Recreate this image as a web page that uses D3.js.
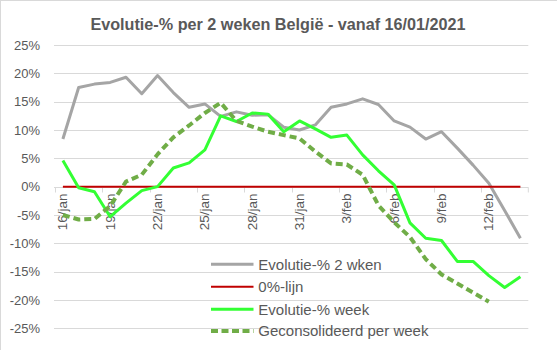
<!DOCTYPE html>
<html>
<head>
<meta charset="utf-8">
<script src="https://cdn.jsdelivr.net/npm/d3@7"></script>
<style>
  html, body { margin: 0; padding: 0; background: #fff; }
  svg { display: block; font-family: "Liberation Sans", Arial, sans-serif; }
</style>
</head>
<body>
<svg id="chart" width="557" height="350"></svg>
<script>
const categories = ["16/jan","17/jan","18/jan","19/jan","20/jan","21/jan","22/jan","23/jan","24/jan","25/jan",
  "26/jan","27/jan","28/jan","29/jan","30/jan","31/jan","1/feb","2/feb","3/feb","4/feb",
  "5/feb","6/feb","7/feb","8/feb","9/feb","10/feb","11/feb","12/feb","13/feb","14/feb"];

const evolutie2wken = [8.4, 17.5, 18.1, 18.4, 19.3, 16.4, 19.6, 16.6, 14.0, 14.6,
  12.4, 13.2, 12.6, 12.7, 10.5, 10.0, 10.9, 14.0, 14.6, 15.5,
  14.5, 11.6, 10.5, 8.4, 9.7, 6.8, 3.8, 0.6, -4.2, -9.1];

const nulLijn = [0,0,0,0,0,0,0,0,0,0, 0,0,0,0,0,0,0,0,0,0, 0,0,0,0,0,0,0,0,0,0];

const evolutieWeek = [4.6, -0.2, -0.9, -5.3, -2.9, -0.7, 0.0, 3.3, 4.2, 6.5,
  12.5, 11.5, 13.0, 12.8, 9.7, 11.6, 10.2, 8.7, 9.1, 5.6,
  2.8, 0.3, -6.4, -9.1, -9.5, -13.2, -13.2, -15.7, -17.8, -15.9];

const geconsolideerd = [-5.0, -5.8, -5.7, -3.4, 0.9, 2.1, 5.7, 8.7, 10.8, 13.0,
  14.8, 11.6, 10.6, 9.7, 9.1, 8.5, 6.2, 4.1, 3.9, 2.1,
  -3.3, -6.3, -8.9, -12.8, -15.5, -17.1, -18.7, -20.3];

const yTicks = [-25, -20, -15, -10, -5, 0, 5, 10, 15, 20, 25];
const xTickLabels = ["16/jan","19/jan","22/jan","25/jan","28/jan","31/jan","3/feb","6/feb","9/feb","12/feb"];

const seriesNames = ["Evolutie-% 2 wken", "0%-lijn", "Evolutie-% week", "Geconsolideerd per week"];

(function () {
const svg = d3.select("#chart");
const textColor = "#595959";
const gridColor = "#d9d9d9";

svg.append("rect").attr("x", 0.5).attr("y", 0.5).attr("width", 620).attr("height", 420)
  .attr("fill", "#fff").attr("stroke", gridColor);

const pLeft = 55, pRight = 528.3, pTop = 45, pBottom = 328.3;

const x = d3.scaleBand().domain(categories).range([pLeft, pRight]).paddingInner(0).paddingOuter(0);
const y = d3.scaleLinear().domain([-25, 25]).range([pBottom, pTop]);
const cx = d => x(d) + x.bandwidth() / 2;

svg.append("text").attr("x", 278).attr("y", 30).attr("text-anchor", "middle")
  .attr("fill", textColor).attr("font-size", "16.2px").attr("font-weight", "bold")
  .text("Evolutie-% per 2 weken België - vanaf 16/01/2021");

svg.append("g").selectAll("line").data(yTicks).join("line")
  .attr("x1", pLeft - 1).attr("x2", pRight)
  .attr("y1", d => Math.round(y(d)) + 0.5).attr("y2", d => Math.round(y(d)) + 0.5)
  .attr("stroke", gridColor).attr("stroke-width", 1);

const yAxis = d3.axisLeft(y).tickValues(yTicks).tickSize(0).tickPadding(0).tickFormat(d => d + "%");
const gy = svg.append("g").attr("transform", `translate(${pLeft - 15},0)`).call(yAxis);
gy.select(".domain").remove();
gy.selectAll("text").attr("fill", textColor).attr("font-size", "13px")
  .attr("font-family", "'Liberation Sans', Arial, sans-serif");

const y0 = Math.round(y(0)) + 0.5;
svg.append("line").attr("x1", pLeft).attr("x2", pRight).attr("y1", y0).attr("y2", y0).attr("stroke", gridColor);
const tickCats = categories.filter((c, i) => i % 3 === 0);
svg.append("g").selectAll("line").data(tickCats.concat(["__end"])).join("line")
  .attr("x1", d => d === "__end" ? pRight : Math.round(x(d)) + 0.5)
  .attr("x2", d => d === "__end" ? pRight : Math.round(x(d)) + 0.5)
  .attr("y1", y0).attr("y2", y0 + 5).attr("stroke", gridColor);

svg.append("g").selectAll("text").data(xTickLabels).join("text")
  .attr("transform", d => `translate(${cx(d) + 4.5},${y0 + 6}) rotate(-90)`)
  .attr("text-anchor", "end").attr("fill", textColor).attr("font-size", "13.5px")
  .text(d => d);

const lineGen = d3.line().x((d, i) => cx(categories[i])).y(d => y(d));

svg.append("path").datum(evolutie2wken).attr("d", lineGen)
  .attr("fill", "none").attr("stroke", "#a5a5a5").attr("stroke-width", 3).attr("stroke-linejoin", "round");
svg.append("path").datum(nulLijn).attr("d", lineGen)
  .attr("fill", "none").attr("stroke", "#c00000").attr("stroke-width", 2);
svg.append("path").datum(evolutieWeek).attr("d", lineGen)
  .attr("fill", "none").attr("stroke", "#33ff33").attr("stroke-width", 3).attr("stroke-linejoin", "round");
svg.append("path").datum(geconsolideerd).attr("d", lineGen)
  .attr("fill", "none").attr("stroke", "#70ad47").attr("stroke-width", 4)
  .attr("stroke-dasharray", "7,4").attr("stroke-linejoin", "round");

const legendStyles = [
  { color: "#a5a5a5", width: 3, dash: null },
  { color: "#c00000", width: 2, dash: null },
  { color: "#33ff33", width: 3, dash: null },
  { color: "#70ad47", width: 4, dash: "7,3.5" }
];
const legY = [264.3, 286.7, 309.2, 331];
const lg = svg.append("g").selectAll("g").data(seriesNames).join("g")
  .attr("transform", (d, i) => `translate(0,${legY[i]})`);
lg.append("line").attr("x1", 211).attr("x2", 253.5).attr("y1", 0).attr("y2", 0)
  .attr("stroke", (d, i) => legendStyles[i].color)
  .attr("stroke-width", (d, i) => legendStyles[i].width)
  .attr("stroke-dasharray", (d, i) => legendStyles[i].dash);
lg.append("text").attr("x", 258.3).attr("y", 0).attr("dy", "0.36em")
  .attr("fill", textColor).attr("font-size", "15px").text(d => d);
})();
</script>
</body>
</html>
